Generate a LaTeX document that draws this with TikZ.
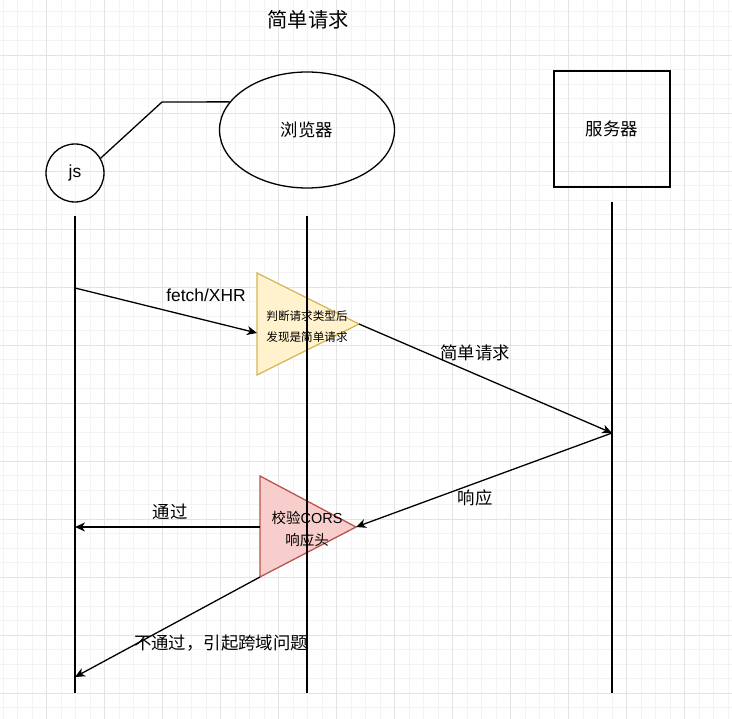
\documentclass[tikz,border=0pt]{standalone}
\usepackage{fontspec}
\setmainfont{Liberation Sans}
\newfontfamily\cjk{Noto Sans CJK SC}
\usetikzlibrary{shapes.geometric,arrows.meta}
\definecolor{gridminor}{HTML}{F3F3F3}
\definecolor{gridmajor}{HTML}{E3E3E3}
\definecolor{notefill}{HTML}{FFF2CC}
\definecolor{notedraw}{HTML}{D6B656}
\definecolor{checkfill}{HTML}{F8CECC}
\definecolor{checkdraw}{HTML}{B85450}
\begin{document}
\begin{tikzpicture}[x=1pt, y=-1pt, line width=1.3pt,
    >={Stealth[length=10pt, width=9pt, inset=3pt]},
    lbl/.style={font=\fontsize{17.4}{21}\selectfont, inner sep=0pt},
    lifeline/.style={line width=1.3pt}]
    \useasboundingbox (0,0) rectangle (732,719);
    \fill[white] (0,0) rectangle (732,719);

    % Grid
    \foreach \i in {0,...,50} {
        \draw[gridminor, line width=0.8pt] ({3.2+14.5*\i},0) -- ({3.2+14.5*\i},719);
        \draw[gridminor, line width=0.8pt] (0,{11.5+14.5*\i}) -- (732,{11.5+14.5*\i});
    }
    \foreach \i in {-1,...,12} {
        \draw[gridmajor, line width=0.8pt] ({46.7+58*\i},0) -- ({46.7+58*\i},719);
        \draw[gridmajor, line width=0.8pt] (0,{55+58*\i}) -- (732,{55+58*\i});
    }

    % Title
    \node[font=\fontsize{20.3}{24}\selectfont] (title) at (308,20) {\cjk 简单请求};

    % Participants
    \node[circle, draw, minimum size=58pt, inner sep=0pt, lbl] (js) at (75,173) {js};
    \node[ellipse, draw, minimum width=175pt, minimum height=116pt, inner sep=0pt, lbl] (browser) at (307,130) {\cjk 浏览器};
    \node[draw, minimum size=116pt, inner sep=0pt, lbl] (server) at (612,129) {\cjk 服务器};
    \coordinate (jsbend) at (162,102);
    \draw (js.30) -- (jsbend) -- (browser.160);

    % First check: request type
    \coordinate (typetop) at (257,273);
    \coordinate (typebot) at (257,375);
    \coordinate (typetip) at (359,324);
    \filldraw[fill=notefill, draw=notedraw] (typetop) -- (typetip) -- (typebot) -- cycle;

    % Second check: CORS headers
    \coordinate (corstop) at (260,476);
    \coordinate (corsbot) at (260,577);
    \coordinate (corstip) at (356,527);
    \filldraw[fill=checkfill, draw=checkdraw] (corstop) -- (corstip) -- (corsbot) -- cycle;

    % Lifelines
    \coordinate (jstop) at (75,216);
    \coordinate (jsbot) at (75,693);
    \coordinate (brtop) at (307,216);
    \coordinate (brbot) at (307,693);
    \coordinate (svtop) at (612,202);
    \coordinate (svbot) at (612,693);
    \draw[lifeline] (jstop) -- (jsbot);
    \draw[lifeline] (brtop) -- (brbot);
    \draw[lifeline] (svtop) -- (svbot);

    % Texts of the checks
    \node[align=center, font=\fontsize{11.6}{21}\selectfont] (typetext) at (307,326.5)
        {\cjk 判断请求类型后\\\cjk 发现是简单请求};
    \node[align=center, font=\fontsize{14.5}{22}\selectfont] (corstext) at (307,529)
        {{\cjk 校验}CORS\\\cjk 响应头};

    % Messages
    \coordinate (jsout) at (75,288);
    \coordinate (typein) at (257,333);
    \coordinate (svhit) at (612,433);
    \coordinate (corsleft) at (260,527);
    \coordinate (jsok) at (75,527);
    \coordinate (jsfail) at (75,677);
    \draw[->] (jsout) -- (typein);
    \node[lbl] (fetchlbl) at (206,295) {fetch/XHR};
    \draw[->] (typetip) -- (svhit);
    \node[lbl] (reqlbl) at (475,353) {\cjk 简单请求};
    \draw[->] (svhit) -- (corstip);
    \node[lbl] (resplbl) at (475,498) {\cjk 响应};
    \draw[->] (corsleft) -- (jsok);
    \node[lbl] (passlbl) at (170,512) {\cjk 通过};
    \draw[->] (corsbot) -- (jsfail);
    \node[lbl] (faillbl) at (221,643) {\cjk 不通过，引起跨域问题};
\end{tikzpicture}
\end{document}
